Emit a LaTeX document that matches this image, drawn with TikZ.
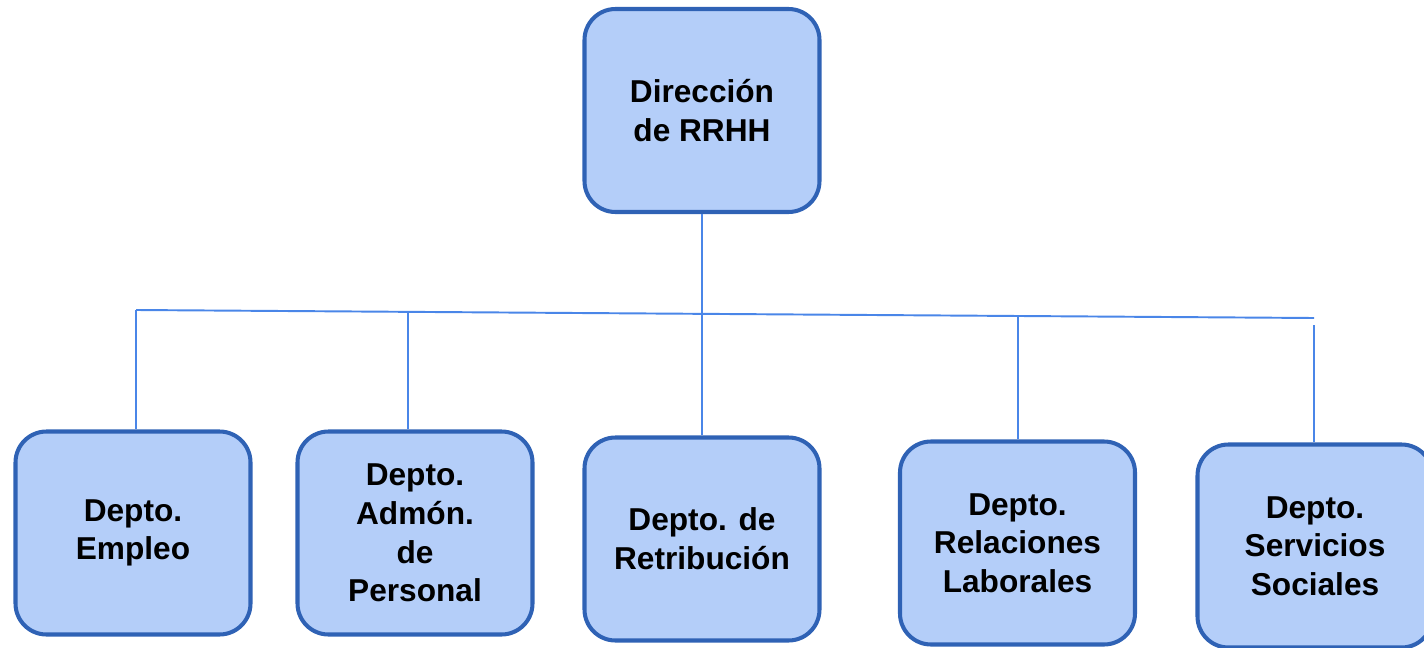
\documentclass[tikz,border=0pt]{standalone}
\usepackage{fontspec}
\setmainfont{Liberation Sans}
\usepackage{tikz}

\definecolor{boxfill}{HTML}{B4CEF9}
\definecolor{boxline}{HTML}{2F62B5}
\definecolor{wire}{HTML}{4A86E8}

\begin{document}
\begin{tikzpicture}[
  dept/.style={draw=boxline, line width=2.3pt, fill=boxfill, rounded corners=0.62cm,
    minimum width=4.7cm, minimum height=4.06cm, align=center, inner sep=0pt,
    font=\bfseries\fontsize{18}{22}\selectfont},
  wirel/.style={draw=wire, line width=1.1pt}
]
\useasboundingbox (0,0) rectangle (28.48,-12.96);
\node[dept] (RRHH) at (14.04,-2.21) {Dirección\\de RRHH};
\node[dept] (Emp) at (2.66,-10.66) {Depto.\\Empleo};
\node[dept] (Adm) at (8.30,-10.66) {Depto.\\Admón.\\de\\Personal};
\node[dept] (Ret) at (14.04,-10.78) {Depto. de\\Retribución};
\node[dept] (Rel) at (20.35,-10.86) {Depto.\\Relaciones\\Laborales};
\node[dept] (Ser) at (26.30,-10.92) {Depto.\\Servicios\\Sociales};
\coordinate (L1) at (2.72,-6.20);
\coordinate (L2) at (8.16,-6.24);
\coordinate (L4) at (20.36,-6.32);
\coordinate (L5) at (26.28,-6.36);
\coordinate (L5b) at (26.28,-6.50);
\draw [wirel] (L1) -- (L5);
\draw [wirel] (RRHH) -- (Ret);
\draw [wirel] (L1) -- (L1 |- Emp.north);
\draw [wirel] (L2) -- (L2 |- Adm.north);
\draw [wirel] (L4) -- (L4 |- Rel.north);
\draw [wirel] (L5b) -- (L5b |- Ser.north);
\end{tikzpicture}
\end{document}
